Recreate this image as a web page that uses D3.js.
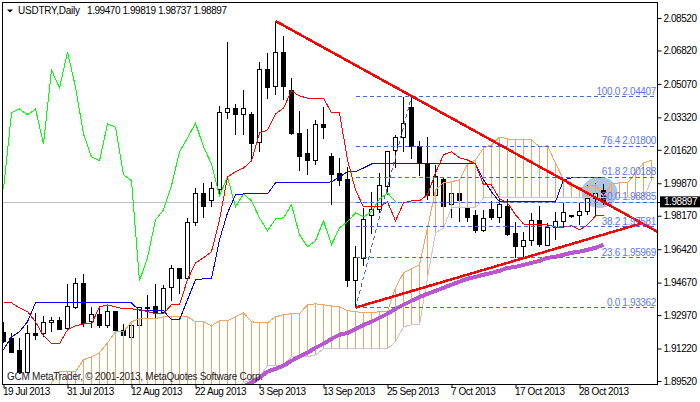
<!DOCTYPE html>
<meta charset="utf-8">
<style>
body { margin: 0; background: #fff; }
svg { display: block; }
text { font-family: "Liberation Sans", Arial, sans-serif; font-size: 10px; fill: #000; }
.axis text { letter-spacing: -0.45px; }
.axis path { display: none; }
.axis line { stroke: #000; }
.line { fill: none; shape-rendering: crispEdges; }
.fib { stroke: #4169e1; stroke-dasharray: 4,3; shape-rendering: crispEdges; fill: none; }
.fibtext { fill: #5f7ae6; letter-spacing: -0.35px; }
</style>
<body>
<svg width="700" height="402"></svg>
<script src="https://d3js.org/d3.v7.min.js"></script>
<script>

var opens = [1.9204,1.9173,1.9111,1.8995,1.9199,1.9199,1.9257,1.9267,1.9225,1.9335,
  1.9461,1.9262,1.9299,1.9241,1.9315,1.9215,1.9178,1.9241,1.9330,1.9340,
  1.9309,1.9440,1.9539,1.9487,1.9779,1.9931,1.9895,1.9952,2.0355,2.0376,
  2.0345,2.0345,2.0198,2.0580,2.0496,2.0674,2.0470,2.0250,2.0141,2.0104,
  2.0297,2.0125,2.0036,2.0005,1.9477,1.9591,1.9816,1.9848,1.9969,2.0157,
  2.0224,2.0386,2.0178,2.0088,1.9921,2.0005,1.9874,1.9931,1.9858,1.9816,
  1.9738,1.9848,1.9806,1.9863,1.9722,1.9654,1.9686,1.9790,1.9660,1.9754,
  1.9785,1.9816,1.9816,1.9838,1.9905,1.9947];
var highs = [1.9262,1.9204,1.9178,1.9246,1.9309,1.9293,1.9288,1.9288,1.9461,1.9492,
  1.9513,1.9340,1.9340,1.9345,1.9315,1.9251,1.9262,1.9340,1.9403,1.9461,
  1.9456,1.9560,1.9544,1.9806,1.9963,1.9989,1.9995,2.0392,2.0727,2.0402,
  2.0475,2.0361,2.0622,2.0669,2.0836,2.0758,2.0538,2.0366,2.0271,2.0318,
  2.0386,2.0146,2.0120,2.0073,1.9660,1.9858,1.9942,2.0041,2.0152,2.0240,
  2.0439,2.0433,2.0209,2.0229,2.0083,2.0020,1.9952,2.0010,1.9900,1.9848,
  1.9848,1.9895,1.9936,1.9905,1.9785,1.9733,1.9832,1.9869,1.9779,1.9838,
  1.9884,1.9821,1.9884,1.9979,1.9989,1.99819];
var lows = [1.9152,1.9100,1.8990,1.8995,1.9168,1.9183,1.9210,1.9220,1.9220,1.9330,
  1.9236,1.9230,1.9230,1.9230,1.9215,1.9183,1.9178,1.9236,1.9246,1.9283,
  1.9304,1.9372,1.9408,1.9482,1.9764,1.9806,1.9863,1.9931,2.0324,2.0240,
  2.0240,2.0109,2.0152,2.0428,2.0449,2.0423,2.0240,2.0052,2.0031,2.0083,
  2.0219,1.9874,1.9974,1.9445,1.9340,1.9555,1.9722,1.9832,1.9926,2.0068,
  2.0152,2.0115,2.0026,1.9900,1.9884,1.9785,1.9806,1.9785,1.9785,1.9727,
  1.9732,1.9795,1.9779,1.9712,1.9596,1.9602,1.9660,1.9654,1.9660,1.9691,
  1.9759,1.9806,1.9769,1.9821,1.9816,1.98737];
var closes = [1.9157,1.9100,1.8995,1.9199,1.9189,1.9257,1.9267,1.9220,1.9340,1.9461,
  1.9251,1.9299,1.9241,1.9315,1.9215,1.9189,1.9241,1.9335,1.9335,1.9309,
  1.9435,1.9539,1.9487,1.9779,1.9931,1.9863,1.9957,2.0355,2.0376,2.0345,
  2.0376,2.0193,2.0580,2.0486,2.0674,2.0491,2.0245,2.0125,2.0104,2.0297,
  2.0281,2.0031,2.0000,1.9477,1.9597,1.9795,1.9848,1.9974,2.0152,2.0224,
  2.0302,2.0178,2.0088,1.9921,2.0020,1.9863,1.9931,1.9895,1.9806,1.9738,
  1.9800,1.9806,1.9874,1.9717,1.9654,1.9686,1.9790,1.9665,1.9754,1.9785,
  1.9832,1.9811,1.9838,1.9905,1.9936,1.98897];

// ichimoku lines
var tenkan = [1.9361,1.9361,1.9335,1.9315,1.9262,1.9189,1.9147,1.9147,1.9220,1.9241,
  1.9251,1.9251,1.9340,1.9351,1.9340,1.9330,1.9330,1.9325,1.9315,1.9304,
  1.9304,1.9351,1.9351,1.9482,1.9570,1.9597,1.9629,1.9795,2.0020,2.0047,
  2.0067,2.0104,2.0250,2.0266,2.0350,2.0381,2.0470,2.0444,2.0433,2.0433,
  2.0433,2.0355,2.0355,2.0109,1.9952,1.9863,1.9863,1.9863,1.9890,1.9790,
  1.9884,1.9895,1.9895,1.9926,2.0041,2.0136,2.0152,2.0120,2.0109,2.0088,
  1.9979,1.9979,1.9905,1.9884,1.9822,1.9774,1.9769,1.9769,1.9769,1.9758,
  1.9758,1.9764,1.9743,1.9769,1.9816,1.9816];
var kijun = [1.9116,1.9183,1.9210,1.9262,1.9361,1.9361,1.9361,1.9361,1.9361,1.9361,
  1.9361,1.9361,1.9361,1.9361,1.9361,1.9361,1.9361,1.9320,1.9320,1.9320,
  1.9320,1.9272,1.9272,1.9377,1.9482,1.9487,1.9487,1.9691,1.9832,1.9926,
  1.9931,1.9931,1.9931,1.9931,1.9989,1.9989,1.9989,1.9989,1.9989,1.9989,
  1.9989,1.9995,2.0020,2.0047,2.0047,2.0067,2.0088,2.0088,2.0088,2.0088,
  2.0088,2.0088,2.0088,2.0088,2.0088,2.0088,2.0088,2.0088,2.0088,2.0088,
  2.0005,1.9942,1.9890,1.9890,1.9890,1.9890,1.9890,1.9890,1.9890,1.9890,
  2.0005,2.0015,2.0015,2.0015,2.0015,2.0015];
var chikou = [1.9957,2.0355,2.0376,2.0345,2.0376,2.0193,2.0580,2.0486,2.0674,2.0491,
  2.0245,2.0125,2.0104,2.0297,2.0281,2.0031,2.0000,1.9477,1.9597,1.9795,
  1.9848,1.9974,2.0152,2.0224,2.0302,2.0178,2.0088,1.9921,2.0020,1.9863,
  1.9931,1.9895,1.9806,1.9738,1.9800,1.9806,1.9874,1.9717,1.9654,1.9686,
  1.9790,1.9665,1.9754,1.9785,1.9832,1.9811,1.9838,1.9905,1.9936,1.98897];

// cloud starts at bar 6, runs 6 bars past the last candle
var cloudStart = 6;
var senkouA = [1.8943,1.9001,1.9001,1.9001,1.9063,1.9079,1.9100,1.9152,1.9210,1.9210,
  1.9262,1.9278,1.9278,1.9278,1.9288,1.9288,1.9288,1.9288,1.9262,1.9262,
  1.9241,1.9267,1.9267,1.9288,1.9309,1.9262,1.9257,1.9257,1.9288,1.9299,
  1.9304,1.9304,1.9351,1.9356,1.9351,1.9345,1.9340,1.9320,1.9315,1.9309,
  1.9309,1.9315,1.9315,1.9440,1.9518,1.9539,1.9560,1.9753,1.9952,1.9989,
  1.9995,2.0005,2.0088,2.0109,2.0172,2.0188,2.0229,2.0219,2.0214,2.0214,
  2.0214,2.0178,2.0183,2.0093,2.0005,1.9969,1.9963,1.9969,1.9979,1.9916,
  1.9984,1.9989,1.9989,2.0041,2.0093,2.0109];
var senkouB = [1.8880,1.8880,1.8880,1.8880,1.8880,1.8880,1.8880,1.8880,1.8880,1.8880,
  1.8880,1.8880,1.8880,1.8880,1.8880,1.8880,1.8880,1.8880,1.8880,1.8880,
  1.8880,1.8880,1.8880,1.8906,1.8943,1.8959,1.8974,1.9032,1.9032,1.9032,
  1.9079,1.9079,1.9079,1.9089,1.9121,1.9121,1.9121,1.9121,1.9121,1.9121,
  1.9121,1.9121,1.9121,1.9157,1.9236,1.9246,1.9246,1.9492,1.9727,1.9753,
  1.9858,1.9858,1.9858,1.9858,1.9910,1.9910,1.9910,1.9910,1.9910,1.9910,
  1.9910,1.9910,1.9910,1.9910,1.9910,1.9910,1.9910,1.9910,1.9910,1.9910,
  1.9910,1.9910,1.9910,1.9910,1.9910,2.0005];

// moving average, starts at bar 30
var maStart = 30;
var ma = [1.8922,1.8943,1.8969,1.9001,1.9016,1.9032,1.9058,1.9079,1.9100,1.9126,
  1.9147,1.9173,1.9194,1.9204,1.9225,1.9246,1.9262,1.9283,1.9304,1.9330,
  1.9351,1.9372,1.9392,1.9408,1.9424,1.9440,1.9456,1.9472,1.9487,1.9497,
  1.9508,1.9518,1.9529,1.9544,1.9549,1.9560,1.9570,1.9581,1.9597,1.9602,
  1.9613,1.9623,1.9629,1.9639,1.9649,1.9665];

var fibLevels = ["100.0","76.4","61.8","50.0","38.2","23.6","0.0"];
var fibPrices = [2.04407,2.01800,2.00188,1.98885,1.97581,1.95969,1.93362];

var trendDown = [[34,2.0836],[82,1.9727]];
var trendUp = [[44,1.93362],[79.9,1.9779]];

var priceTicks = [2.08520,2.06820,2.05070,2.03320,2.01620,1.99870,1.98170,1.96420,1.94670,1.92970,1.91220,1.89520];
var dateTicks = [0,8,16,24,32,40,48,56,64,72];
var dateLabels = ["19 Jul 2013","31 Jul 2013","12 Aug 2013","22 Aug 2013","3 Sep 2013","13 Sep 2013","25 Sep 2013","7 Oct 2013","17 Oct 2013","28 Oct 2013"];

var lastPrice = 1.98897;

var svg = d3.select("svg");

var x = d3.scaleLinear().domain([0, 81]).range([3.5, 651.5]),
    y = d3.scaleLinear().domain([1.8952, 2.0852]).range([381, 18]);

svg.append("clipPath").attr("id", "plot")
  .append("rect").attr("x", 3).attr("y", 3).attr("width", 654).attr("height", 381);

var g = svg.append("g").attr("clip-path", "url(#plot)");

// highlight circle behind everything
g.append("ellipse")
    .attr("cx", x(74.5))
    .attr("cy", y(1.9939))
    .attr("rx", 18)
    .attr("ry", 15.5)
    .attr("fill", "#b0c4de");

g.append("line")
    .attr("x1", 3).attr("x2", 657)
    .attr("y1", Math.round(y(lastPrice)) + 0.5).attr("y2", Math.round(y(lastPrice)) + 0.5)
    .attr("stroke", "#c0c0c0");

// candles
var candles = g.selectAll(".candle")
    .data(opens)
  .enter().append("g")
    .attr("class", "candle")
    .attr("shape-rendering", "crispEdges");

candles.append("line")
    .attr("x1", function(d, i) { return x(i); })
    .attr("x2", function(d, i) { return x(i); })
    .attr("y1", function(d, i) { return y(highs[i]); })
    .attr("y2", function(d, i) { return y(lows[i]); })
    .attr("stroke", "#000");

candles.append("rect")
    .attr("x", function(d, i) { return x(i) - 2; })
    .attr("width", 4)
    .attr("y", function(d, i) { return y(Math.max(opens[i], closes[i])); })
    .attr("height", function(d, i) { return Math.abs(y(opens[i]) - y(closes[i])); })
    .attr("fill", function(d, i) { return closes[i] >= opens[i] ? "#fff" : "#000"; })
    .attr("stroke", "#000");

// cloud hatching
g.selectAll(".hatch")
    .data(senkouA)
  .enter().append("line")
    .attr("class", "hatch")
    .attr("shape-rendering", "crispEdges")
    .attr("x1", function(d, i) { return x(i + cloudStart); })
    .attr("x2", function(d, i) { return x(i + cloudStart); })
    .attr("y1", function(d) { return y(d); })
    .attr("y2", function(d, i) { return y(senkouB[i]); })
    .attr("stroke", "#f4a460");

function drawLine(values, start, color, width) {
  var line = d3.line()
      .x(function(d, i) { return x(i + start); })
      .y(function(d) { return y(d); });
  g.append("path")
      .datum(values)
      .attr("class", "line")
      .attr("d", line)
      .attr("stroke", color)
      .attr("stroke-width", width);
}

drawLine(senkouB, cloudStart, "#d8bfd8", 1);
drawLine(senkouA, cloudStart, "#f4a460", 1);
drawLine(chikou, 0, "#00ff00", 1);
drawLine(kijun, 0, "#0000ff", 1);
drawLine(tenkan, 0, "#ff0000", 1);
drawLine(ma, maStart, "#ba55d3", 4);

// fibonacci
g.selectAll(".fib")
    .data(fibPrices)
  .enter().append("line")
    .attr("class", "fib")
    .attr("x1", x(44)).attr("x2", 657)
    .attr("y1", function(d) { return y(d); })
    .attr("y2", function(d) { return y(d); });

g.append("line")
    .attr("class", "fib")
    .attr("x1", x(44)).attr("y1", y(fibPrices[6]))
    .attr("x2", x(51)).attr("y2", y(fibPrices[0]));

// trend lines
function drawTrend(pts) {
  g.append("line")
      .attr("class", "line")
      .attr("x1", x(pts[0][0])).attr("y1", y(pts[0][1]))
      .attr("x2", x(pts[1][0])).attr("y2", y(pts[1][1]))
      .attr("stroke", "#ff0000")
      .attr("stroke-width", 2.5);
}
drawTrend(trendDown);
drawTrend(trendUp);

svg.selectAll(".fibtext")
    .data(fibPrices)
  .enter().append("text")
    .attr("class", "fibtext")
    .attr("x", 656)
    .attr("y", function(d) { return y(d) - 2; })
    .attr("text-anchor", "end")
    .text(function(d, i) { return fibLevels[i] + " " + d.toFixed(5); });

// frame and axes
svg.append("rect")
    .attr("x", 2.5).attr("y", 2.5)
    .attr("width", 655).attr("height", 381.5)
    .attr("fill", "none")
    .attr("stroke", "#000")
    .attr("shape-rendering", "crispEdges");

var yAxis = svg.append("g")
    .attr("class", "axis")
    .attr("transform", "translate(657.5,0)")
    .call(d3.axisRight(y).tickValues(priceTicks).tickSize(4).tickPadding(2).tickFormat(d3.format(".5f")));

var xAxis = svg.append("g")
    .attr("class", "axis")
    .attr("transform", "translate(0,384)")
    .call(d3.axisBottom(x).tickValues(dateTicks).tickSize(4).tickFormat(function(d, i) { return dateLabels[i]; }));

xAxis.selectAll("text")
    .attr("text-anchor", "start")
    .attr("x", -1)
    .attr("y", 4)
    .attr("dy", "0.71em");

// current price box
svg.append("line")
    .attr("x1", 657).attr("x2", 661)
    .attr("y1", Math.round(y(lastPrice)) + 0.5).attr("y2", Math.round(y(lastPrice)) + 0.5)
    .attr("stroke", "#000");

svg.append("rect")
    .attr("x", 660).attr("y", y(lastPrice) - 5.5)
    .attr("width", 40).attr("height", 11)
    .attr("fill", "#000");

svg.append("text")
    .attr("x", 664)
    .attr("y", y(lastPrice) + 3.5)
    .style("fill", "#fff")
    .style("letter-spacing", "-0.45px")
    .text(d3.format(".5f")(lastPrice));

// header
svg.append("path")
    .attr("d", d3.line()([[7, 9.5], [13, 9.5], [10, 12.5]]))
    .attr("fill", "#000");

svg.append("text")
    .attr("x", 18).attr("y", 14)
    .attr("textLength", 62)
    .text("USDTRY,Daily");

svg.append("text")
    .attr("x", 87).attr("y", 14)
    .attr("textLength", 140)
    .text("1.99470 1.99819 1.98737 1.98897");

svg.append("text")
    .attr("x", 7).attr("y", 380)
    .attr("textLength", 256)
    .style("fill", "#222")
    .text("GCM MetaTrader, \u00a9 2001-2013, MetaQuotes Software Corp.");

</script>
</body>
